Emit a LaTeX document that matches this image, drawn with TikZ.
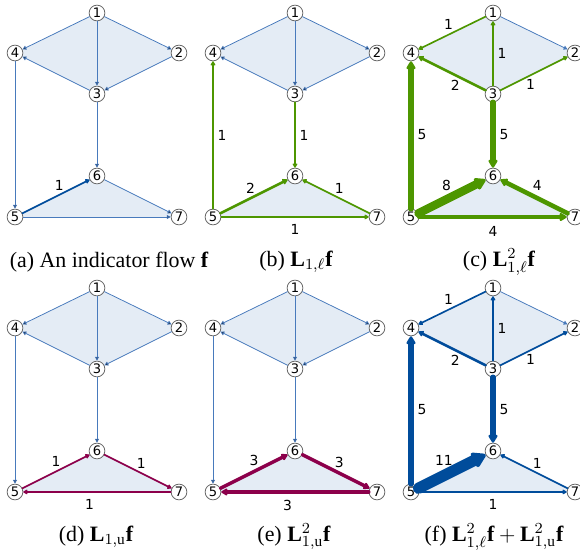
\documentclass[tikz,border=0pt]{standalone}
\usepackage{fontspec}
\setmainfont{Liberation Serif}
\newfontfamily\dejavu{DejaVu Sans}
\usetikzlibrary{arrows.meta,backgrounds}
\definecolor{thinblue}{RGB}{72,122,188}
\definecolor{flowgreen}{RGB}{77,150,0}
\definecolor{flowred}{RGB}{140,0,75}
\definecolor{flowdark}{RGB}{0,76,155}
\definecolor{cellfill}{RGB}{228,236,245}
\begin{document}
\begin{tikzpicture}[line cap=round,line join=round,x=0.52pt,y=-0.52pt,
		vtx/.style={circle,draw=black!60,fill=white,line width=0.4pt,minimum size=8.2pt,inner sep=0pt,font=\dejavu\fontsize{6.8}{7}\selectfont},
		lbl/.style={inner sep=2pt,text=black,font=\dejavu\fontsize{7.2}{8}\selectfont},
		botlbl/.style={lbl,inner sep=0.5pt,below=3pt},
		base/.style={draw=thinblue,line width=0.4pt,-{Triangle[length=1.6pt 1.1,width=1.6pt 1.3]}},
		wgt/.style={line width={(0.35+0.5*#1)*1pt},-{Triangle[round,length=1.6pt 1.1,width=1.6pt 1.3]}},
		subcap/.style={inner sep=0pt,font=\fontsize{11.4}{13}\selectfont}]
	\useasboundingbox (0,0) rectangle (580,555);
	\foreach \p/\dx/\dy in {a/0/0,b/198/0,c/396/0,d/0/275,e/198/275,f/396/275}{
		\foreach \n/\x/\y in {1/97/13,2/179/53,3/97/94,4/15/53,5/15/217,6/97/176,7/179/217}
			\node[vtx] (\p\n) at (\x+\dx,\y+\dy) {\n};
		\begin{pgfonlayer}{background}
			\fill[cellfill] (\p1.center)--(\p2.center)--(\p3.center)--(\p4.center)--cycle;
			\fill[cellfill] (\p5.center)--(\p6.center)--(\p7.center)--cycle;
		\end{pgfonlayer}
	}
	% (a)
	\draw[base] (a1) edge (a4) (a1) edge (a2) (a1) edge (a3) (a2) edge (a3) (a3) edge (a4)
		(a3) edge (a6) (a4) edge (a5) (a6) edge (a7) (a5) edge (a7);
	\draw[flowdark,wgt=1] (a5) -- node[lbl,pos=0.55,above] {1} (a6);
	% (b)
	\draw[base] (b1) edge (b4) (b1) edge (b2) (b1) edge (b3) (b2) edge (b3) (b3) edge (b4);
	\draw[flowgreen,wgt=1] (b5) -- node[lbl,right] {1} (b4);
	\draw[flowgreen,wgt=1] (b3) -- node[lbl,right] {1} (b6);
	\draw[flowgreen,wgt=2] (b5) -- node[lbl,pos=0.45,above] {2} (b6);
	\draw[flowgreen,wgt=1] (b7) -- node[lbl,pos=0.45,above] {1} (b6);
	\draw[flowgreen,wgt=1] (b5) -- node[botlbl] {1} (b7);
	% (c)
	\draw[base] (c1) -- (c2);
	\draw[flowgreen,wgt=1] (c1) -- node[lbl,pos=0.55,above] {1} (c4);
	\draw[flowgreen,wgt=1] (c3) -- node[lbl,right] {1} (c1);
	\draw[flowgreen,wgt=2] (c3) -- node[lbl,pos=0.45,below] {2} (c4);
	\draw[flowgreen,wgt=1] (c3) -- node[lbl,pos=0.45,below] {1} (c2);
	\draw[flowgreen,wgt=5] (c5) -- node[lbl,right] {5} (c4);
	\draw[flowgreen,wgt=5] (c3) -- node[lbl,right] {5} (c6);
	\draw[flowgreen,wgt=8] (c5) -- node[lbl,pos=0.42,above] {8} (c6);
	\draw[flowgreen,wgt=4] (c7) -- node[lbl,pos=0.45,above=1pt] {4} (c6);
	\draw[flowgreen,wgt=4] (c5) -- node[botlbl] {4} (c7);
	% (d)
	\draw[base] (d1) edge (d4) (d1) edge (d2) (d1) edge (d3) (d2) edge (d3) (d3) edge (d4)
		(d3) edge (d6) (d4) edge (d5);
	\draw[flowred,wgt=1] (d5) -- node[lbl,above] {1} (d6);
	\draw[flowred,wgt=1] (d6) -- node[lbl,pos=0.55,above] {1} (d7);
	\draw[flowred,wgt=1] (d7) -- node[botlbl,pos=0.55] {1} (d5);
	% (e)
	\draw[base] (e1) edge (e4) (e1) edge (e2) (e1) edge (e3) (e2) edge (e3) (e3) edge (e4)
		(e3) edge (e6) (e4) edge (e5);
	\draw[flowred,wgt=3] (e5) -- node[lbl,above] {3} (e6);
	\draw[flowred,wgt=3] (e6) -- node[lbl,pos=0.55,above] {3} (e7);
	\draw[flowred,wgt=3] (e7) -- node[botlbl,pos=0.55] {3} (e5);
	% (f)
	\draw[base] (f1) -- (f2);
	\draw[flowdark,wgt=1] (f1) -- node[lbl,pos=0.55,above] {1} (f4);
	\draw[flowdark,wgt=1] (f3) -- node[lbl,right] {1} (f1);
	\draw[flowdark,wgt=2] (f3) -- node[lbl,pos=0.45,below] {2} (f4);
	\draw[flowdark,wgt=1] (f3) -- node[lbl,pos=0.45,below] {1} (f2);
	\draw[flowdark,wgt=5] (f5) -- node[lbl,right] {5} (f4);
	\draw[flowdark,wgt=5] (f3) -- node[lbl,right] {5} (f6);
	\draw[flowdark,wgt=11] (f5) -- node[lbl,pos=0.38,above=0.5pt] {11} (f6);
	\draw[flowdark,wgt=1] (f7) -- node[lbl,pos=0.45,above] {1} (f6);
	\draw[flowdark,wgt=1] (f5) -- node[botlbl] {1} (f7);
	% captions
	\node[subcap] (capa) at (109,262) {(a) An indicator flow $\mathbf{f}$};
	\node[subcap] (capb) at (296,262) {(b) $\mathbf{L}_{1,\ell}\mathbf{f}$};
	\node[subcap] (capc) at (499,262) {(c) $\mathbf{L}_{1,\ell}^2\mathbf{f}$};
	\node[subcap] (capd) at (96,537) {(d) $\mathbf{L}_{1,\mathrm{u}}\mathbf{f}$};
	\node[subcap] (cape) at (294,537) {(e) $\mathbf{L}_{1,\mathrm{u}}^2\mathbf{f}$};
	\node[subcap] (capf) at (494,537) {(f) $\mathbf{L}_{1,\ell}^2\mathbf{f}+\mathbf{L}_{1,\mathrm{u}}^2\mathbf{f}$};
\end{tikzpicture}
\end{document}
